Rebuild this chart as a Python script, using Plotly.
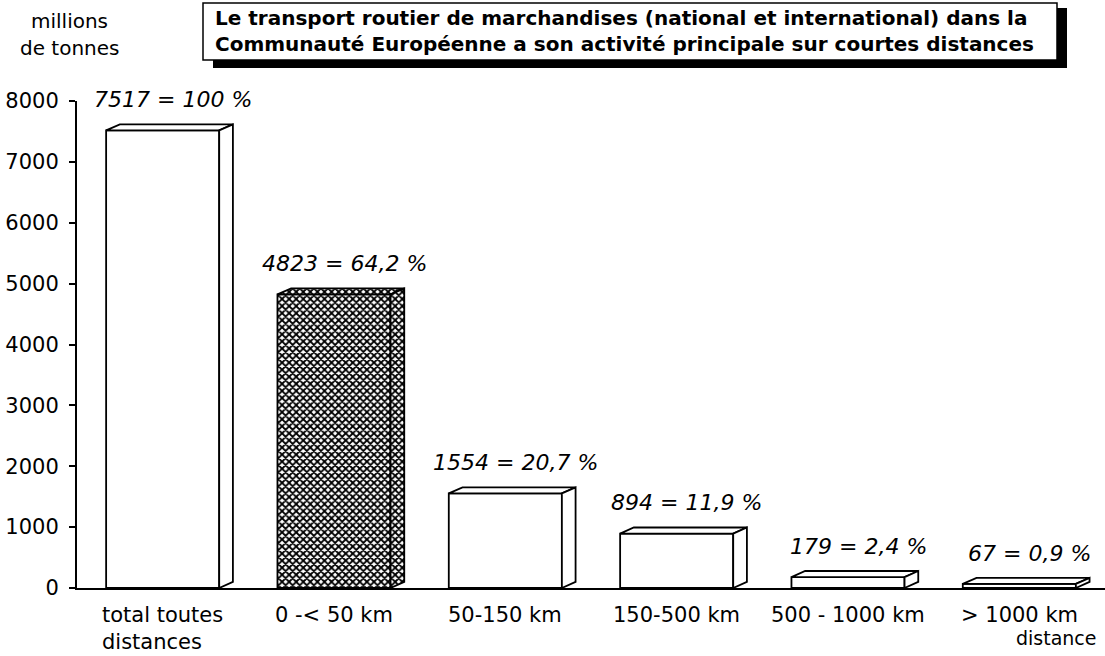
import plotly.graph_objects as go

# ---- data ----
categories = ["total toutes<br>distances", "0 -< 50 km", "50-150 km",
              "150-500 km", "500 - 1000 km", "> 1000 km"]
values = [7517, 4823, 1554, 894, 179, 67]
shares = ["100", "64,2", "20,7", "11,9", "2,4", "0,9"]
y_ticks = [0, 1000, 2000, 3000, 4000, 5000, 6000, 7000, 8000]
hatched = [False, True, False, False, False, False]

# ---- geometry / style ----
W, H = 1105, 656
L, R, T, B = 77, 0, 101, 68
FONT = "DejaVu Sans"
bw = 0.66      # front face width (x units)
dx = 0.08      # depth in x units
dy = 100       # depth in y units

def px(xp):
    return (xp - L) / (W - L - R)

def py(yp):
    return (H - B - yp) / (H - T - B)

PATTERN = dict(shape="x", fgcolor="black", bgcolor="white",
               size=5, solidity=0.6, fillmode="replace")

fig = go.Figure()

# front faces
for i, v in enumerate(values):
    marker = dict(color="white", line=dict(color="black", width=1.8))
    if hatched[i]:
        marker["pattern"] = PATTERN
    fig.add_trace(go.Bar(x=[i], y=[v], width=bw, marker=marker,
                         showlegend=False, hoverinfo="skip"))

# top and side faces (computed from the values)
for i, v in enumerate(values):
    xl, xr = i - bw / 2, i + bw / 2
    top_x = [xl, xl + dx, xr + dx, xr, xl]
    top_y = [v, v + dy, v + dy, v, v]
    side_x = [xr, xr, xr + dx, xr + dx, xr]
    side_y = [0, v, v + dy, dy, 0]
    for fx, fy in ((top_x, top_y), (side_x, side_y)):
        kw = dict(x=fx, y=fy, mode="lines", fill="toself", fillcolor="white",
                  line=dict(color="black", width=1.8), showlegend=False,
                  hoverinfo="skip")
        if hatched[i]:
            kw["fillpattern"] = PATTERN
        fig.add_trace(go.Scatter(**kw))

annotations = []
# value labels
for i, (v, s) in enumerate(zip(values, shares)):
    annotations.append(dict(x=i + 0.06, y=v + dy, xref="x", yref="y",
                            text=f"{v} = {s} %", showarrow=False,
                            yanchor="bottom", yshift=10,
                            font=dict(family=FONT, size=22, style="italic",
                                      color="black")))
# category labels
for i, c in enumerate(categories):
    annotations.append(dict(x=i, y=py(601), xref="x", yref="paper",
                            text=c, showarrow=False, align="left",
                            xanchor="center", yanchor="top",
                            font=dict(family=FONT, size=21, color="black")))
# axis titles
annotations.append(dict(x=px(69), y=py(21), xref="paper", yref="paper",
                        text="millions", showarrow=False, xanchor="center",
                        yanchor="middle",
                        font=dict(family=FONT, size=20, color="black")))
annotations.append(dict(x=px(70), y=py(48), xref="paper", yref="paper",
                        text="de tonnes", showarrow=False, xanchor="center",
                        yanchor="middle",
                        font=dict(family=FONT, size=20, color="black")))
annotations.append(dict(x=px(1099), y=py(638), xref="paper", yref="paper",
                        text="distance", showarrow=False, xanchor="right",
                        yanchor="middle",
                        font=dict(family=FONT, size=19, color="black")))
# title lines
annotations.append(dict(x=px(213), y=py(18), xref="paper", yref="paper",
                        text="<b>Le transport routier de marchandises (national et international) dans la</b>",
                        showarrow=False, xanchor="left", yanchor="middle",
                        font=dict(family=FONT, size=20, color="black")))
annotations.append(dict(x=px(213), y=py(44), xref="paper", yref="paper",
                        text="<b>Communauté Européenne a son activité principale sur courtes distances</b>",
                        showarrow=False, xanchor="left", yanchor="middle",
                        font=dict(family=FONT, size=20, color="black")))

shapes = [
    # shadow of title box
    dict(type="rect", xref="paper", yref="paper",
         x0=px(213), x1=px(1067), y0=py(68), y1=py(8),
         fillcolor="black", line=dict(width=0), layer="above"),
    # title box
    dict(type="rect", xref="paper", yref="paper",
         x0=px(203), x1=px(1057), y0=py(60), y1=py(3),
         fillcolor="white", line=dict(color="black", width=1.5), layer="above"),
]

fig.update_layout(
    width=W, height=H,
    margin=dict(l=L, r=R, t=T, b=B, pad=0),
    paper_bgcolor="white", plot_bgcolor="white",
    barmode="overlay",
    annotations=annotations,
    shapes=shapes,
    xaxis=dict(range=[-0.5, 5.5], showgrid=False, zeroline=False,
               showticklabels=False, ticks="", showline=True,
               linecolor="black", linewidth=2, fixedrange=True),
    yaxis=dict(range=[0, 8000], tickvals=y_ticks,
               ticktext=[str(t) for t in y_ticks],
               showgrid=False, zeroline=False, showline=True,
               linecolor="black", linewidth=2, ticks="outside", ticklen=6,
               tickwidth=2, tickcolor="black", ticklabelstandoff=6,
               tickfont=dict(family=FONT, size=21, color="black"),
               fixedrange=True),
)

fig.write_html("out.html",
               config={"displayModeBar": False},
               post_script="document.body.style.margin='0';document.body.style.overflow='hidden';")
